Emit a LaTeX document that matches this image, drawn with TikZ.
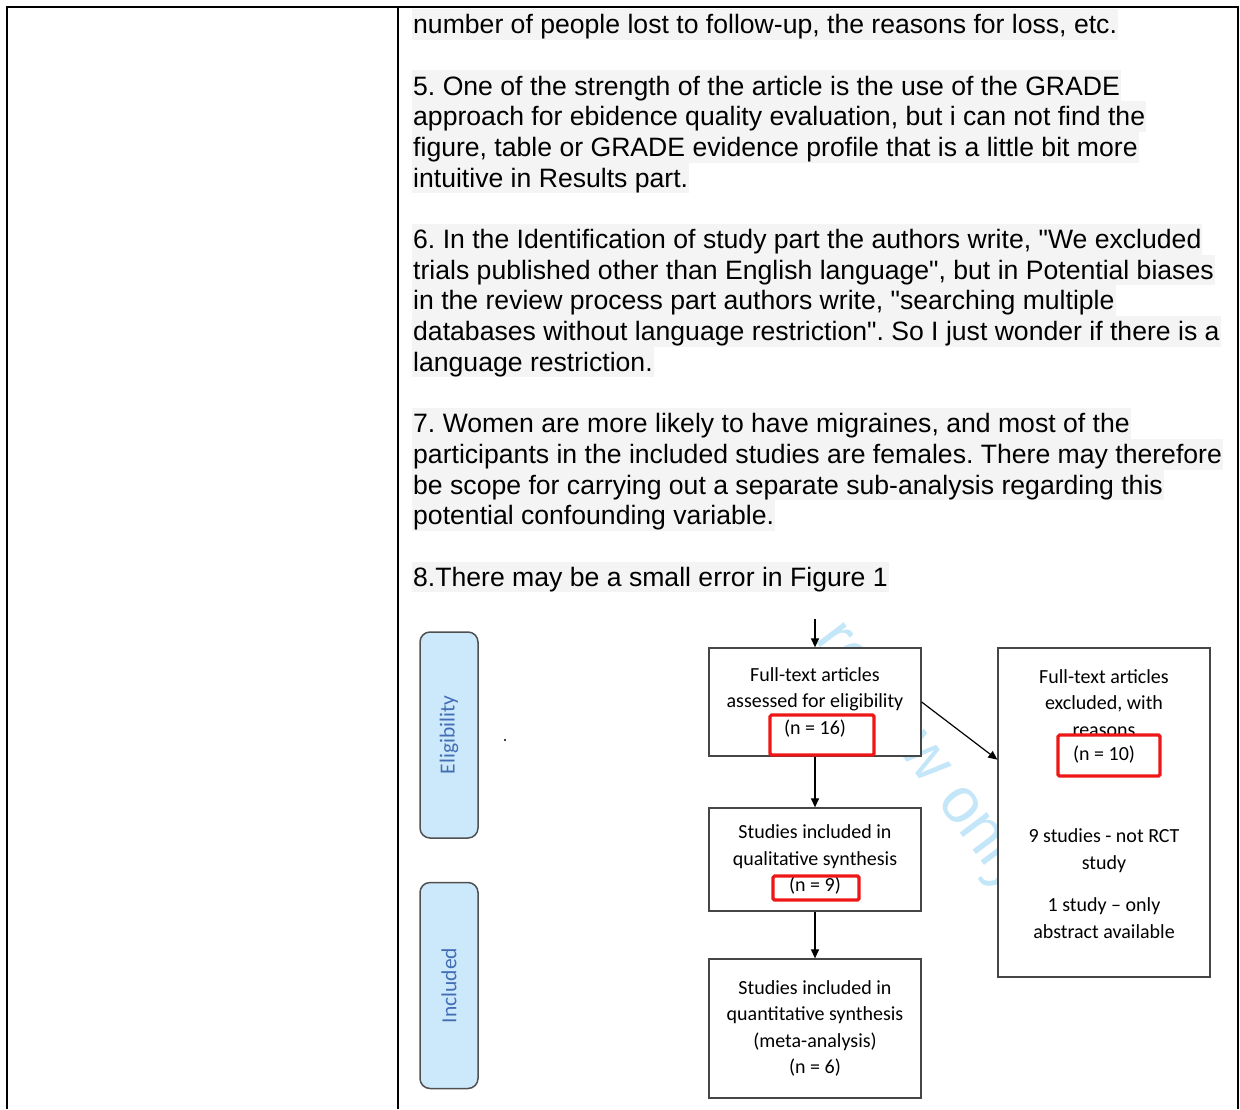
\documentclass[tikz,border=0pt]{standalone}
\usepackage{fontspec}
\setmainfont{Liberation Sans}[Ligatures=TeXOff]
\newfontfamily\carlito{Carlito}
\usetikzlibrary{arrows.meta,calc}
\definecolor{hl}{RGB}{244,244,244}
\definecolor{lblfill}{RGB}{204,233,252}
\definecolor{lbltext}{RGB}{68,110,180}
\definecolor{lbldraw}{RGB}{80,80,80}
\definecolor{wm}{RGB}{196,230,249}
\definecolor{redbox}{RGB}{238,22,22}
\definecolor{boxline}{RGB}{70,70,70}
\frenchspacing
\begin{document}
\begin{tikzpicture}[x=1pt,y=-1pt,
  ln/.style={anchor=base west, inner xsep=1pt, inner ysep=0pt, fill=hl,
    text height=24.6pt, text depth=6.1pt, font=\fontsize{26.6}{30.7}\selectfont},
  frame/.style={line width=2pt, black},
  fbox/.style={draw=boxline, line width=1.3pt, fill=white, align=center,
    font=\carlito\fontsize{20}{26.5}\selectfont, minimum width=212pt, inner sep=0pt},
  ftext/.style={align=center, inner sep=0pt, font=\carlito\fontsize{20}{26.5}\selectfont},
  redrect/.style={draw=redbox, line width=3.2pt, rounded corners=1.5pt, inner sep=0pt},
  lbl/.style={draw=lbldraw, line width=1.5pt, fill=lblfill, rounded corners=10pt,
    rotate=90, minimum width=206pt, minimum height=58pt, inner sep=0pt,
    text=lbltext, font=\carlito\fontsize{21.5}{24}\selectfont},
  arr/.style={-{Triangle[length=9pt,width=8pt]}, line width=1.2pt, black},
  wmstyle/.style={text=wm, inner sep=0pt, font=\fontsize{64}{70}\selectfont}
]
\useasboundingbox (0,0) rectangle (1240,1109);
\fill[white] (0,0) rectangle (1240,1109);

% table frame
\draw[frame] (6.5,1109) -- (6.5,7) -- (1238,7) -- (1238,1109);
\draw[frame] (398,7) -- (398,1109);

% text lines
\node[ln] (l1) at (412,33.6) {number of people lost to follow-up, the reasons for loss, etc.};
\node[ln] (l2) at (412,95) {5. One of the strength of the article is the use of the GRADE};
\node[ln] (l3) at (412,125.7) {approach for ebidence quality evaluation, but i can not find the};
\node[ln] (l4) at (412,156.4) {figure, table or GRADE evidence profile that is a little bit more};
\node[ln] (l5) at (412,187.1) {intuitive in Results part.};
\node[ln] (l6) at (412,248.5) {6. In the Identification of study part the authors write, "We excluded};
\node[ln] (l7) at (412,279.2) {trials published other than English language", but in Potential biases};
\node[ln] (l8) at (412,309.9) {in the review process part authors write, "searching multiple};
\node[ln] (l9) at (412,340.6) {databases without language restriction". So I just wonder if there is a};
\node[ln] (l10) at (412,371.3) {language restriction.};
\node[ln] (l11) at (412,432.7) {7. Women are more likely to have migraines, and most of the};
\node[ln] (l12) at (412,463.4) {participants in the included studies are females. There may therefore};
\node[ln] (l13) at (412,494.1) {be scope for carrying out a separate sub-analysis regarding this};
\node[ln] (l14) at (412,524.8) {potential confounding variable.};
\node[ln] (l15) at (412,586.2) {8.There may be a small error in Figure 1};

% watermark
\begin{scope}
\clip (405,615) rectangle (1236,1105);
\node[wmstyle, rotate=-53, anchor=base east] (wmk) at (1007,895) {For peer review only};
\end{scope}

% side labels
\node[lbl] (elig) at (449,735) {Eligibility};
\node[lbl] (incl) at (449,985.5) {Included};
\fill (505,740) circle (1.2pt);

% flow boxes
\coordinate (topin) at (815,619);
\node[fbox, minimum height=108pt] (A) at (815,702) {Full-text articles\\assessed for eligibility\\(n = 16)};
\node[fbox, minimum height=103pt] (B) at (815,859.5) {Studies included in\\qualitative synthesis\\(n = 9)};
\node[fbox, minimum height=139pt] (C) at (815,1028.5) {Studies included in\\quantitative synthesis\\(meta-analysis)\\(n = 6)};
\node[fbox, minimum height=329pt] (D) at (1104,812.5) {};
\node[ftext] (d1) at (1104,703) {Full-text articles\\excluded, with\\reasons};
\node[ftext] (d2) at (1104,755) {(n = 10)};
\node[ftext] (d3) at (1104,850.5) {9 studies - not RCT\\study};
\node[ftext] (d4) at (1104,918) {1 study – only\\abstract available};

% red annotation boxes
\node[redrect, minimum width=104pt, minimum height=40pt] (r16) at (822,735) {};
\node[redrect, minimum width=102pt, minimum height=41pt] (r10) at (1109,755.5) {};
\node[redrect, minimum width=86pt, minimum height=24pt] (r9) at (816,888) {};

% connectors
\coordinate (dIn) at ($(D.north west)!0.34!(D.south west)$);
\draw[arr] (topin) -- (A.north);
\draw[arr] (A.south) -- (B.north);
\draw[arr] (B.south) -- (C.north);
\draw[arr] (A.east) -- (dIn);
\end{tikzpicture}
\end{document}
